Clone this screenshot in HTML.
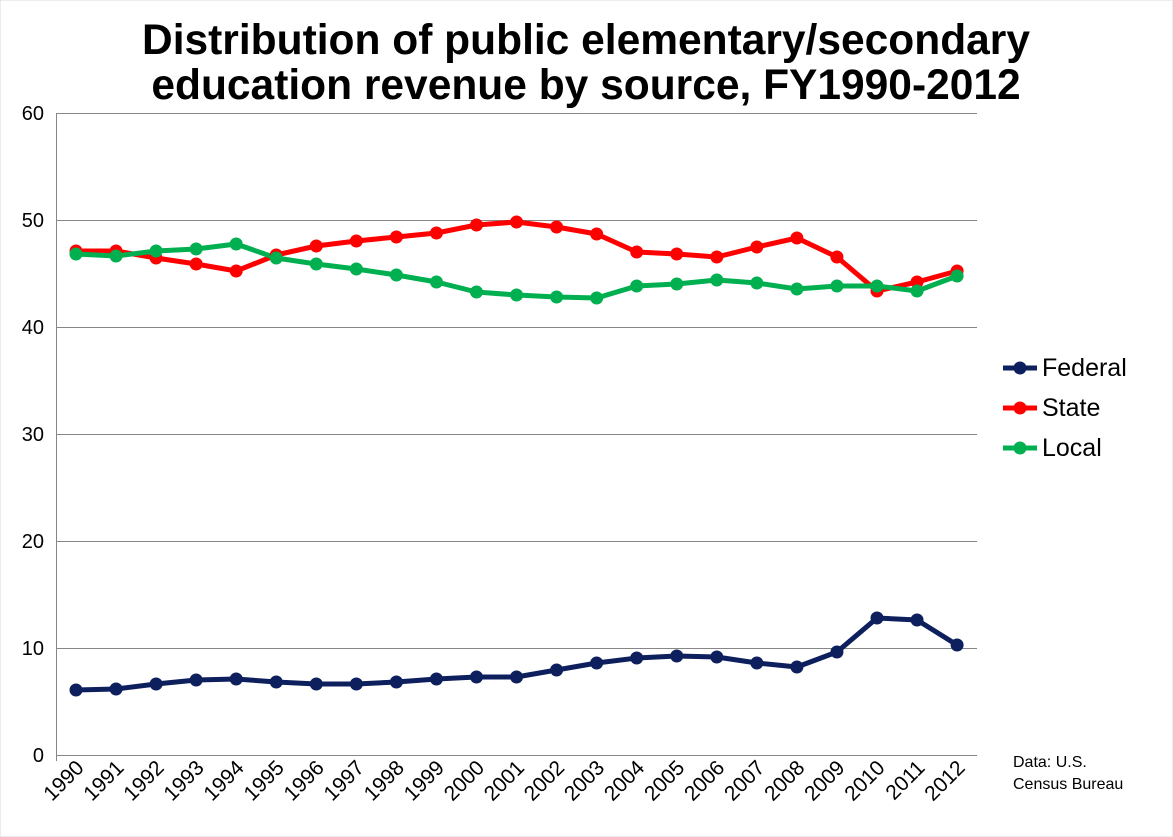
<!DOCTYPE html>
<html><head><meta charset="utf-8"><style>
html,body{margin:0;padding:0;background:#fff;}
svg{display:block;font-family:"Liberation Sans",Arial,sans-serif;}
</style></head><body>
<svg width="1173" height="837" viewBox="0 0 1173 837" xmlns="http://www.w3.org/2000/svg">
<rect x="0" y="0" width="1173" height="837" fill="#fff" stroke="#d9d9d9"/>
<text x="586" y="54" font-size="42.5" font-weight="bold" text-anchor="middle">Distribution of public elementary/secondary</text>
<text x="586" y="99" font-size="42.5" font-weight="bold" text-anchor="middle">education revenue by source, FY1990-2012</text>
<g stroke="#868686" stroke-width="1">
<line x1="56" y1="113.5" x2="977" y2="113.5"/>
<line x1="56" y1="220.5" x2="977" y2="220.5"/>
<line x1="56" y1="327.5" x2="977" y2="327.5"/>
<line x1="56" y1="434.5" x2="977" y2="434.5"/>
<line x1="56" y1="541.5" x2="977" y2="541.5"/>
<line x1="56" y1="648.5" x2="977" y2="648.5"/>
<line x1="56" y1="755.5" x2="977" y2="755.5"/>
<line x1="56.5" y1="113" x2="56.5" y2="761"/>
</g>
<g font-size="20" text-anchor="end">
<text x="44" y="120">60</text><text x="44" y="227">50</text><text x="44" y="334">40</text>
<text x="44" y="441">30</text><text x="44" y="548">20</text><text x="44" y="655">10</text><text x="44" y="762">0</text>
</g>
<g font-size="21" text-anchor="end" id="xl"></g>
<g fill="none" stroke-width="5" stroke-linejoin="round">
<polyline id="f" stroke="#0d1f5c"/><polyline id="s" stroke="#ff0000"/><polyline id="l" stroke="#00b050"/>
</g>
<g id="dots"></g>
<g font-size="25">
<line x1="1003" y1="368" x2="1037" y2="368" stroke="#0d1f5c" stroke-width="5"/><circle cx="1020" cy="368" r="6.5" fill="#0d1f5c"/>
<text x="1042" y="376">Federal</text>
<line x1="1003" y1="408" x2="1037" y2="408" stroke="#ff0000" stroke-width="5"/><circle cx="1020" cy="408" r="6.5" fill="#ff0000"/>
<text x="1042" y="416">State</text>
<line x1="1003" y1="448" x2="1037" y2="448" stroke="#00b050" stroke-width="5"/><circle cx="1020" cy="448" r="6.5" fill="#00b050"/>
<text x="1042" y="456">Local</text>
</g>
<text x="1013" y="767" font-size="16">Data: U.S.</text>
<text x="1013" y="789" font-size="16">Census Bureau</text>
<script>
var F=[690,689,684,680,679,682,684,684,682,679,677,677,670,663,658,656,657,663,667,652,618,620,645];
var S=[251,251,258,264,271,255,246,241,237,233,225,222,227,234,252,254,257,247,238,257,291,282,271];
var L=[254,256,251,249,244,258,264,269,275,282,292,295,297,298,286,284,280,283,289,286,286,291,276];
function X(i){return 76+i*40.05;}
var ns="http://www.w3.org/2000/svg";
function pl(id,d,c){var p=d.map(function(y,i){return X(i)+","+y}).join(" ");document.getElementById(id).setAttribute("points",p);
var g=document.getElementById("dots");d.forEach(function(y,i){var e=document.createElementNS(ns,"circle");e.setAttribute("cx",X(i));e.setAttribute("cy",y);e.setAttribute("r",6.5);e.setAttribute("fill",c);g.appendChild(e);});}
pl("f",F,"#0d1f5c");pl("s",S,"#ff0000");pl("l",L,"#00b050");
var xl=document.getElementById("xl");
for(var i=0;i<23;i++){var t=document.createElementNS(ns,"text");var x=X(i)+9,y=769;t.setAttribute("x",x);t.setAttribute("y",y);t.setAttribute("transform","rotate(-45 "+x+" "+y+")");t.textContent=1990+i;xl.appendChild(t);}
</script>
</svg>
</body></html>
